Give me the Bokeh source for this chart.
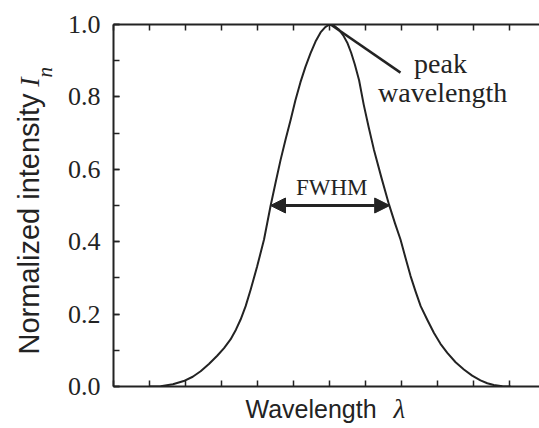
import math
from bokeh.plotting import figure
from bokeh.layouts import row, column
from bokeh.models import (Range1d, LinearAxis, SingleIntervalTicker, PrintfTickFormatter,
                          Label, Arrow, NormalHead, ColumnDataSource)
from bokeh.core.properties import value
from bokeh.embed import file_html
from bokeh.resources import INLINE

# ---- data ----
wavelength = [1.0, 1.31, 1.65, 1.95, 2.2, 2.42, 2.65, 2.88, 3.07, 3.25, 3.4, 3.53, 3.67, 3.81,
              3.99, 4.18, 4.36, 4.5, 4.64, 4.78, 4.92, 5.05, 5.19, 5.33, 5.47, 5.61, 5.75,
              5.88, 6.0, 6.12, 6.25, 6.38, 6.5, 6.6, 6.7, 6.82, 6.95, 7.09, 7.23, 7.44,
              7.65, 7.82, 7.97, 8.11, 8.25, 8.39, 8.53, 8.72, 8.9, 9.08, 9.27, 9.5, 9.73,
              9.96, 10.19, 10.38, 10.56, 10.8, 11.03]
intensity = [0.0, 0.001, 0.006, 0.015, 0.027, 0.042, 0.062, 0.085, 0.106, 0.13, 0.157, 0.185,
             0.222, 0.268, 0.332, 0.406, 0.498, 0.563, 0.626, 0.683, 0.737, 0.79, 0.84, 0.883,
             0.92, 0.953, 0.978, 0.993, 1.0, 0.997, 0.987, 0.97, 0.948, 0.922, 0.89, 0.846,
             0.778, 0.715, 0.655, 0.577, 0.503, 0.45, 0.406, 0.355, 0.305, 0.262, 0.222, 0.183,
             0.148, 0.118, 0.093, 0.067, 0.047, 0.03, 0.017, 0.009, 0.004, 0.001, 0.0]

peak_x, peak_y = 6.03, 1.0
fwhm_left, fwhm_right, half_max = 4.36, 7.67, 0.5
y_tick_interval = 0.2
x_tick_interval = 1.0
x_ticks = list(range(0, 12))

INK = "#232323"
SERIF = "Liberation Serif"
SANS = "Liberation Sans"


def bare(fig):
    fig.outline_line_color = None
    fig.xgrid.visible = False
    fig.ygrid.visible = False
    fig.background_fill_color = "white"
    fig.border_fill_color = "white"


# ---------------- main chart ----------------
p = figure(width=483, height=396, output_backend="svg", toolbar_location=None,
           x_range=Range1d(0, 11.83), y_range=Range1d(0, 1.0),
           min_border_left=57, min_border_right=0, min_border_top=24, min_border_bottom=10,
           x_axis_location=None, y_axis_location=None)
bare(p)

yax = LinearAxis(ticker=SingleIntervalTicker(interval=y_tick_interval, num_minor_ticks=2),
                 formatter=PrintfTickFormatter(format="%.1f"))
yax.axis_line_color = INK
yax.axis_line_width = 2
yax.major_tick_in = 6
yax.major_tick_out = 0
yax.minor_tick_in = 6
yax.minor_tick_out = 0
yax.major_tick_line_color = INK
yax.minor_tick_line_color = INK
yax.major_tick_line_width = 1.5
yax.minor_tick_line_width = 1.5
yax.major_label_standoff = 13
yax.major_label_text_font = SERIF
yax.major_label_text_font_size = "26px"
yax.major_label_text_color = INK
p.add_layout(yax, "left")

for loc in ("below", "above"):
    ax = LinearAxis(ticker=SingleIntervalTicker(interval=x_tick_interval, num_minor_ticks=0))
    ax.axis_line_color = INK
    ax.axis_line_width = 2
    ax.major_tick_in = 6
    ax.major_tick_out = 0
    ax.minor_tick_line_color = None
    ax.major_tick_line_color = INK
    ax.major_tick_line_width = 1.5
    ax.major_label_overrides = {t: "" for t in x_ticks}
    ax.major_label_standoff = 0
    p.add_layout(ax, loc)

src = ColumnDataSource(dict(x=wavelength, y=intensity))
p.line("x", "y", source=src, line_color=INK, line_width=2, line_join="round")

# leader line to the peak
p.segment(x0=[peak_x], y0=[peak_y], x1=[7.97], y1=[0.867], line_color=INK, line_width=2.5)

# FWHM double arrow
p.add_layout(Arrow(x_start=fwhm_left, y_start=half_max, x_end=fwhm_right, y_end=half_max,
                   line_color=INK, line_width=3,
                   start=NormalHead(size=15, fill_color=INK, line_color=INK),
                   end=NormalHead(size=15, fill_color=INK, line_color=INK)))

p.add_layout(Label(x=6.06, y=0.549, text="FWHM", text_font=SERIF, text_font_size="23px",
                   text_color=INK, text_align="center", text_baseline="alphabetic"))
p.add_layout(Label(x=9.08, y=0.893, text="peak", text_font=SERIF, text_font_size="28px",
                   text_color=INK, text_align="center", text_baseline="alphabetic"))
p.add_layout(Label(x=9.14, y=0.811, text="wavelength", text_font=SERIF, text_font_size="28px",
                   text_color=INK, text_align="center", text_baseline="alphabetic"))

# ---------------- y-axis title strip (pixel coordinates) ----------------
ly = figure(width=56, height=396, output_backend="svg", toolbar_location=None,
            x_range=Range1d(0, 56), y_range=Range1d(0, 396),
            min_border=0, x_axis_location=None, y_axis_location=None)
bare(ly)
ly.text(x=[28.3], y=[35], text=["Normalized intensity"], angle=math.pi / 2,
        text_font=value(SANS), text_font_size=value("29px"), text_color=INK,
        text_align=value("left"), text_baseline=value("alphabetic"))
ly.text(x=[28.5], y=[328], text=["I"], angle=math.pi / 2,
        text_font=value(SERIF), text_font_style=value("italic"), text_font_size=value("28px"),
        text_color=INK, text_align=value("left"), text_baseline=value("alphabetic"))
ly.text(x=[44], y=[338], text=["n"], angle=math.pi / 2,
        text_font=value(SERIF), text_font_style=value("italic"), text_font_size=value("21px"),
        text_color=INK, text_align=value("left"), text_baseline=value("alphabetic"))

# ---------------- x-axis title strip ----------------
lx = figure(width=539, height=32, output_backend="svg", toolbar_location=None,
            x_range=Range1d(0, 539), y_range=Range1d(0, 32),
            min_border=0, x_axis_location=None, y_axis_location=None)
bare(lx)
lx.text(x=[245], y=[19.6], text=["Wavelength"],
        text_font=value(SANS), text_font_size=value("25px"), text_color=INK,
        text_align=value("left"), text_baseline=value("alphabetic"))
lx.text(x=[393], y=[19.1], text=["λ"],
        text_font=value(SERIF), text_font_style=value("italic"), text_font_size=value("27px"),
        text_color=INK, text_align=value("left"), text_baseline=value("alphabetic"))

layout = column(row(ly, p, spacing=0), lx, spacing=0)
open("out.html", "w").write(file_html(layout, INLINE))
